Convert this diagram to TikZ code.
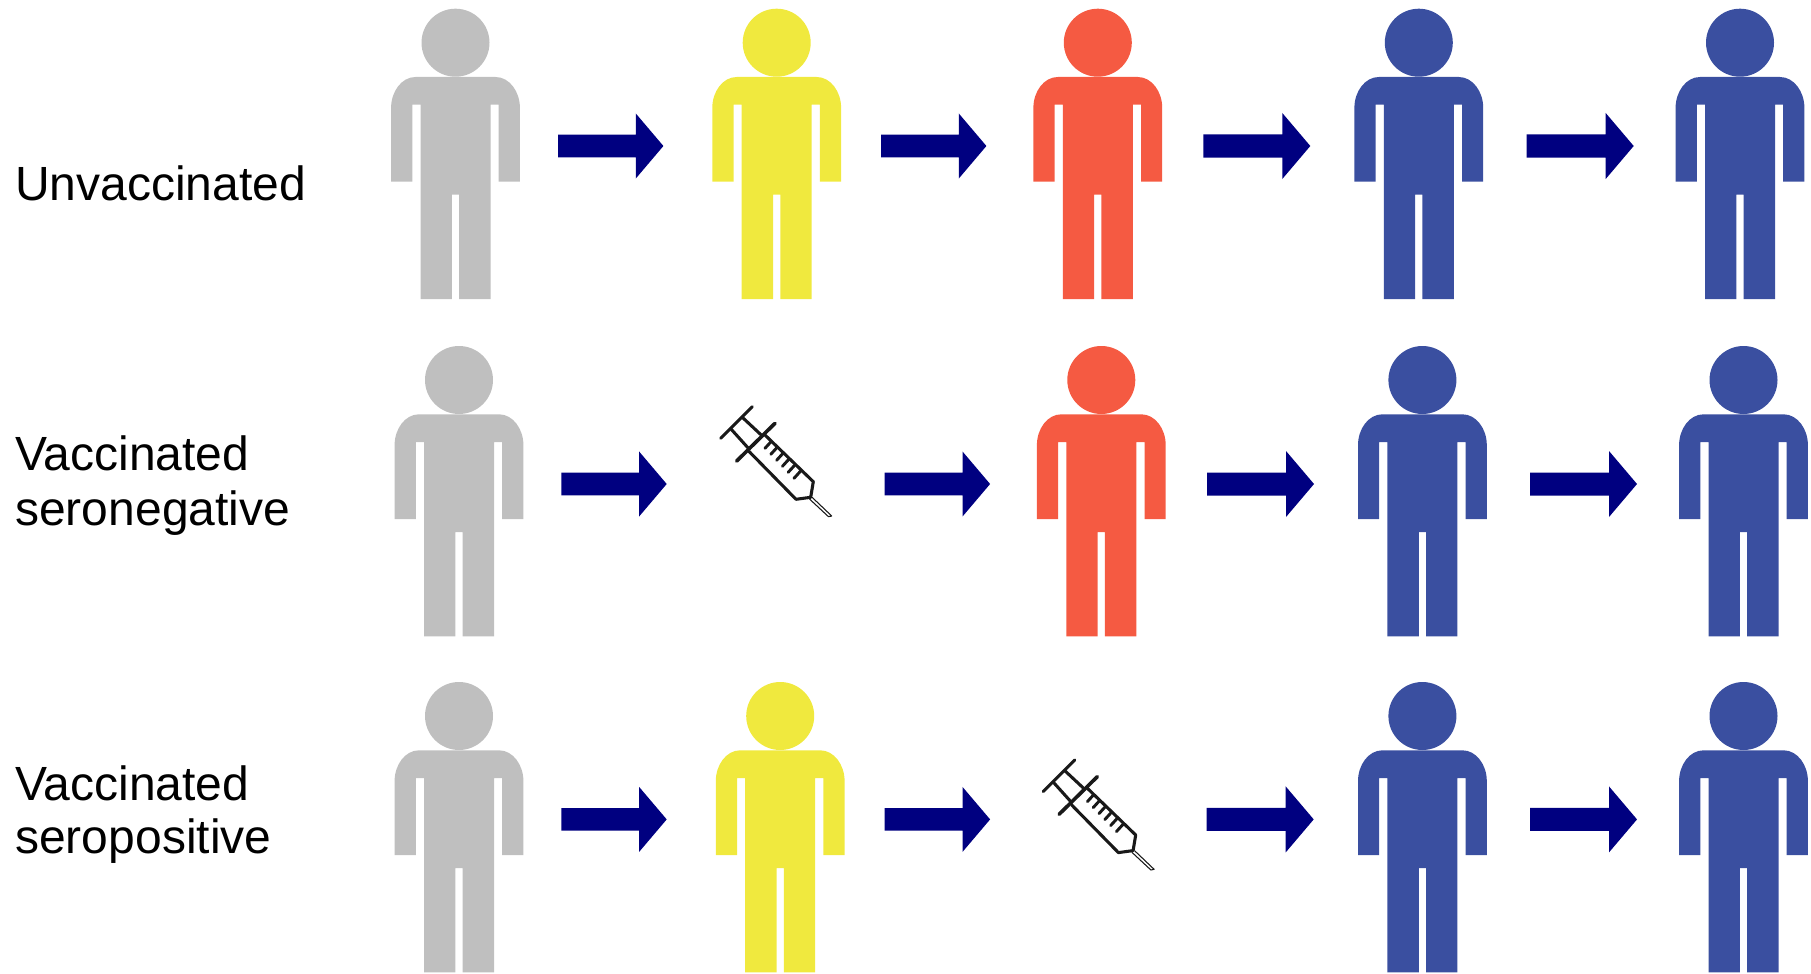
\documentclass[tikz,border=0pt]{standalone}
\usepackage{fontspec}
\setmainfont{Liberation Sans}
\definecolor{psngray}{HTML}{BFBFBF}
\definecolor{psnyellow}{HTML}{F0E93E}
\definecolor{psnred}{HTML}{F55A42}
\definecolor{psnblue}{HTML}{3A4FA0}
\definecolor{arrownavy}{HTML}{000080}
\tikzset{
  rowlabel/.style={anchor=base west,inner sep=0pt,align=left,font=\fontsize{36}{40.5}\selectfont},
  person/.pic={
    \fill[pic actions] (0,0) circle (34);
    \fill[pic actions] (-64.4,65) .. controls (-64.4,49) and (-54,34.3) .. (-40,34.3)
      -- (40,34.3) .. controls (54,34.3) and (64.4,49) .. (64.4,65)
      -- (64.4,139) -- (43.2,139) -- (43.2,62) -- (35,62) -- (35,256.3) -- (3.6,256.3)
      -- (3.6,152) -- (-3.6,152) -- (-3.6,256.3) -- (-35,256.3) -- (-35,62) -- (-43.2,62)
      -- (-43.2,139) -- (-64.4,139) -- cycle;
  },
  blockarrow/.pic={
    \fill[arrownavy] (0,-11.5) -- (79,-11.5) -- (79,-33) -- (107,0) -- (79,33)
      -- (79,11.5) -- (0,11.5) -- cycle;
  },
  syringe/.pic={
    \begin{scope}[line width=2.3pt,line cap=round,line join=round,black!90]
      \draw (10.7,38.3) -- (42.3,6.7);
      \draw (21,29) -- (39.3,49.3);
      \draw (32.3,17.3) -- (52.3,36);
      \draw[line width=2.7pt] (26.7,61) -- (65,23.3);
      \draw (39.3,51.7) -- (86,99.3) -- (100.7,97.3) -- (103.3,81.7) -- (55,35);
      \foreach \i in {0,...,5}
        \draw[line width=2.2pt] (61+5.9*\i,41.7+5.9*\i) -- (55+5.8*\i,48.3+6*\i);
      \draw[line width=0.8pt] (99.5,99) -- (118.5,116.7) -- (121.7,116) -- (102.3,97.5);
    \end{scope}
  }
}
\begin{document}
\begin{tikzpicture}[x=0.75pt,y=-0.75pt]
\useasboundingbox (0,0) rectangle (1811,974);
% row labels
\node[rowlabel] (unvac) at (15,200) {Unvaccinated};
\node[rowlabel] (seroneg1) at (15,470) {Vaccinated};
\node[rowlabel] (seroneg2) at (15,525) {seronegative};
\node[rowlabel] (seropos1) at (15,800) {Vaccinated};
\node[rowlabel] (seropos2) at (15,853) {seropositive};
% unvaccinated
\foreach \x/\c in {455.5/psngray,776.7/psnyellow,1097.8/psnred,1418.8/psnblue,1740/psnblue}
  \pic[fill=\c] at (\x,42.7) {person};
\foreach \x/\s in {558/0.985,881/0.985,1203.3/1,1526.7/1}
  \pic[xscale=\s,yscale=\s] at (\x,146) {blockarrow};
% seronegative
\foreach \x/\c in {459/psngray,1101.3/psnred,1422.4/psnblue,1743.5/psnblue}
  \pic[fill=\c] at (\x,380) {person};
\pic at (710,400) {syringe};
\foreach \x/\s in {561.3/0.985,884.7/0.985,1207/1,1530/1}
  \pic[xscale=\s,yscale=\s] at (\x,484) {blockarrow};
% seropositive
\foreach \x/\c in {459/psngray,780.2/psnyellow,1422.4/psnblue,1743.5/psnblue}
  \pic[fill=\c] at (\x,716) {person};
\pic at (1032.4,753.3) {syringe};
\foreach \x/\s in {561.3/0.985,884.7/0.985,1206.7/1,1530/1}
  \pic[xscale=\s,yscale=\s] at (\x,819.4) {blockarrow};
\end{tikzpicture}
\end{document}
